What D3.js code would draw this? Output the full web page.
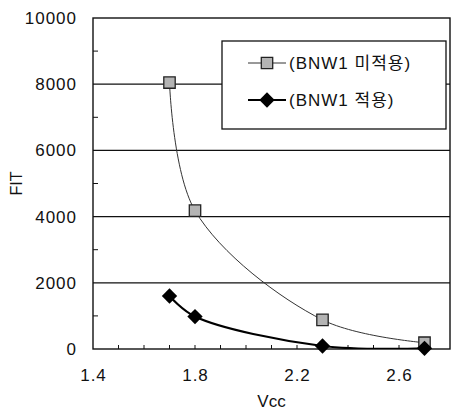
<!DOCTYPE html>
<html>
<head>
<meta charset="utf-8">
<script src="https://cdn.jsdelivr.net/npm/d3@7"></script>
<style>
  body { margin: 0; background: #fff; }
  svg text { font-family: "Liberation Sans", Arial, "Noto Sans CJK KR", sans-serif; fill: #111; }
</style>
</head>
<body>
<div id="chart"></div>
<script>
// data
const vcc = [1.7, 1.8, 2.3, 2.7];
const fitNoBnw = [8050, 4180, 880, 190];   // (BNW1 미적용)
const fitBnw = [1600, 980, 90, 20];        // (BNW1 적용)
const seriesNames = ["(BNW1 미적용)", "(BNW1 적용)"];
const xTicks = [1.4, 1.8, 2.2, 2.6];
const yTicks = [0, 2000, 4000, 6000, 8000, 10000];

(function () {
  const width = 452, height = 412;
  const margin = { top: 18, right: 2, bottom: 63, left: 93 };
  const innerW = width - margin.left - margin.right;
  const innerH = height - margin.top - margin.bottom;

  const svg = d3.select("#chart").append("svg")
    .attr("width", width)
    .attr("height", height);

  const g = svg.append("g")
    .attr("transform", `translate(${margin.left},${margin.top})`);

  const x = d3.scaleLinear().domain([1.4, 2.8]).range([0, innerW]);
  const y = d3.scaleLinear().domain([0, 10000]).range([innerH, 0]);

  svg.append("defs").append("clipPath").attr("id", "plotClip")
    .append("rect").attr("width", innerW).attr("height", innerH);

  // gridlines
  g.selectAll("line.grid")
    .data(yTicks.filter(d => d > 0 && d < 10000))
    .join("line")
    .attr("class", "grid")
    .attr("x1", 0).attr("x2", innerW)
    .attr("y1", d => y(d)).attr("y2", d => y(d))
    .attr("stroke", "#111").attr("stroke-width", 1.2);

  // frame
  g.append("rect")
    .attr("width", innerW).attr("height", innerH)
    .attr("fill", "none").attr("stroke", "#111").attr("stroke-width", 1.4);

  // y axis: labels + inward minor ticks
  const yAxis = g.append("g")
    .call(d3.axisLeft(y).tickValues(yTicks).tickSize(0).tickPadding(16)
      .tickFormat(d3.format("d")));
  yAxis.select(".domain").remove();
  yAxis.selectAll("text").style("font-size", "17px").style("letter-spacing", "1px");

  g.selectAll("line.ymin")
    .data(d3.range(1000, 10000, 2000))
    .join("line")
    .attr("class", "ymin")
    .attr("x1", 0).attr("x2", 5)
    .attr("y1", d => y(d)).attr("y2", d => y(d))
    .attr("stroke", "#111");

  // x axis: labels + inward ticks every 0.1
  const xAxis = g.append("g")
    .attr("transform", `translate(0,${innerH})`)
    .call(d3.axisBottom(x).tickValues(xTicks).tickSize(0).tickPadding(20)
      .tickFormat(d3.format(".1f")));
  xAxis.select(".domain").remove();
  xAxis.selectAll("text").style("font-size", "17px").style("letter-spacing", "1px");

  g.selectAll("line.xmin")
    .data(d3.range(15, 28).map(d => d / 10))
    .join("line")
    .attr("class", "xmin")
    .attr("x1", d => x(d)).attr("x2", d => x(d))
    .attr("y1", innerH).attr("y2", innerH - 4)
    .attr("stroke", "#111");

  // axis titles
  g.append("text")
    .attr("transform", `translate(${-77},${innerH / 2}) rotate(-90)`)
    .attr("text-anchor", "middle")
    .attr("dy", "0.35em")
    .style("font-size", "16px")
    .text("FIT");

  g.append("text")
    .attr("x", x(2.1)).attr("y", innerH + 58)
    .attr("text-anchor", "middle")
    .style("font-size", "17px")
    .text("Vcc");

  // lines
  const line = d3.line()
    .x(d => x(d[0])).y(d => y(d[1]))
    .curve(d3.curveCatmullRom.alpha(0.5));

  const plot = g.append("g").attr("clip-path", "url(#plotClip)");

  plot.append("path")
    .datum(d3.zip(vcc, fitNoBnw))
    .attr("d", line)
    .attr("fill", "none").attr("stroke", "#333").attr("stroke-width", 1);

  plot.append("path")
    .datum(d3.zip(vcc, fitBnw))
    .attr("d", line)
    .attr("fill", "none").attr("stroke", "#000").attr("stroke-width", 2.2);

  const square = d3.symbol().type(d3.symbolSquare).size(130);
  const diamond = d3.symbol().type(d3.symbolDiamond2).size(150);

  g.selectAll("path.sq")
    .data(d3.zip(vcc, fitNoBnw))
    .join("path")
    .attr("class", "sq")
    .attr("transform", d => `translate(${x(d[0])},${y(d[1])})`)
    .attr("d", square)
    .attr("fill", "#b4b4b4").attr("stroke", "#222").attr("stroke-width", 1.3);

  g.selectAll("path.dm")
    .data(d3.zip(vcc, fitBnw))
    .join("path")
    .attr("class", "dm")
    .attr("transform", d => `translate(${x(d[0])},${y(d[1])})`)
    .attr("d", diamond)
    .attr("fill", "#000");

  // legend
  const lg = g.append("g").attr("transform", `translate(${222 - margin.left},${41 - margin.top})`);
  lg.append("rect")
    .attr("width", 224).attr("height", 88)
    .attr("fill", "#fff").attr("stroke", "#111").attr("stroke-width", 1.3);

  const items = lg.selectAll("g.item")
    .data(seriesNames)
    .join("g")
    .attr("class", "item")
    .attr("transform", (d, i) => `translate(0,${i ? 59 : 22})`);

  items.append("line")
    .attr("x1", 26).attr("x2", 64)
    .attr("stroke", (d, i) => i ? "#000" : "#333")
    .attr("stroke-width", (d, i) => i ? 2 : 1);

  items.append("path")
    .attr("transform", "translate(45,0)")
    .attr("d", (d, i) => i ? diamond() : square())
    .attr("fill", (d, i) => i ? "#000" : "#b4b4b4")
    .attr("stroke", (d, i) => i ? "none" : "#222")
    .attr("stroke-width", 1.3);

  items.append("text")
    .attr("x", 67).attr("dy", "0.36em")
    .style("font-size", "17px")
    .style("letter-spacing", "1px")
    .style("font-family", "'Liberation Sans', 'Noto Sans CJK KR', sans-serif")
    .text(d => d);
})();
</script>
</body>
</html>
